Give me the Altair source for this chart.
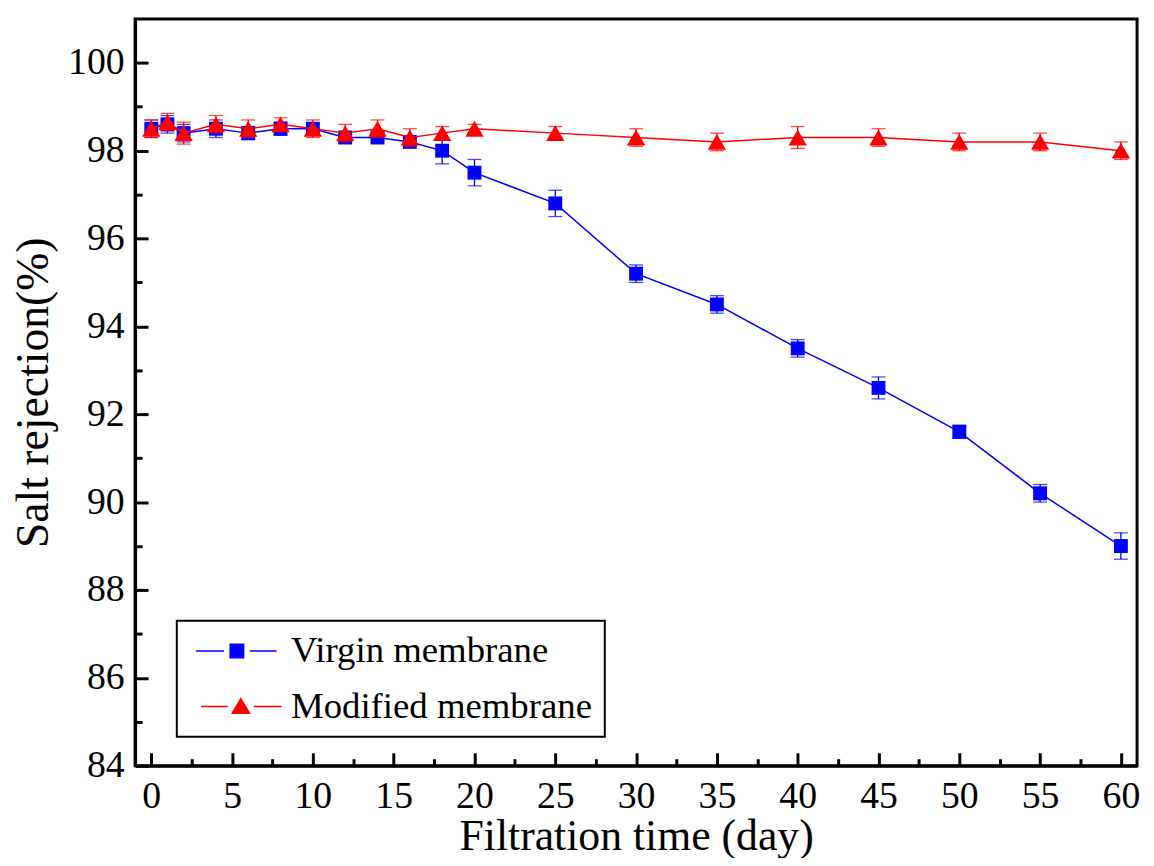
import altair as alt
import pandas as pd

# ---- data ----
days = [0, 1, 2, 4, 6, 8, 10, 12, 14, 16, 18, 20, 25, 30, 35, 40, 45, 50, 55, 60]
virgin = [98.5, 98.6, 98.4, 98.5, 98.4, 98.5, 98.5, 98.3, 98.3, 98.2, 98.0, 97.5,
          96.8, 95.2, 94.5, 93.5, 92.6, 91.6, 90.2, 89.0]
virgin_err = [0.2, 0.2, 0.2, 0.2, 0.15, 0.15, 0.1, 0.1, 0.1, 0.1, 0.3, 0.3,
              0.3, 0.2, 0.2, 0.2, 0.25, 0.15, 0.2, 0.3]
modified = [98.5, 98.65, 98.4, 98.6, 98.5, 98.6, 98.5, 98.4, 98.5, 98.3, 98.4, 98.5,
            98.4, 98.3, 98.2, 98.3, 98.3, 98.2, 98.2, 98.0]
modified_err = [0.2, 0.2, 0.25, 0.2, 0.2, 0.15, 0.2, 0.2, 0.2, 0.2, 0.15, 0.1,
                0.15, 0.2, 0.2, 0.25, 0.2, 0.2, 0.2, 0.2]
series_names = ["Virgin membrane", "Modified membrane"]
colors = ["#0000FF", "#FF0000"]
x_ticks = [i * 2.5 for i in range(25)]
y_ticks = list(range(84, 101))

rows = []
for name, vals, errs in [(series_names[0], virgin, virgin_err),
                         (series_names[1], modified, modified_err)]:
    for d, v, e in zip(days, vals, errs):
        rows.append({"day": d, "value": v, "lo": v - e, "hi": v + e, "series": name})
df = pd.DataFrame(rows)

FONT = "Liberation Serif"

xscale = alt.Scale(domain=[-1, 61], nice=False, zero=False)
yscale = alt.Scale(domain=[84, 101], nice=False, zero=False)
cscale = alt.Scale(domain=series_names, range=colors)

x_axis = alt.Axis(
    values=x_ticks,
    labelExpr="datum.value % 5 === 0 ? format(datum.value, 'd') : ''",
    tickSize={"expr": "datum.value % 5 === 0 ? -13 : -7"},
    labelPadding=25,
    title="Filtration time (day)",
    titleBaseline="alphabetic",
    titleY=84,
    titleFontSize=44,
)
y_axis = alt.Axis(
    values=y_ticks,
    labelExpr="datum.value % 2 === 0 ? format(datum.value, 'd') : ''",
    tickSize={"expr": "datum.value % 2 === 0 ? -13 : -7"},
    labelPadding=24,
    title="Salt rejection(%)",
    titlePadding=10,
)

X = alt.X("day:Q", scale=xscale, axis=x_axis)
Y = alt.Y("value:Q", scale=yscale, axis=y_axis)

base = alt.Chart(df)

# legend symbol paths (line - marker - line)
path_virgin = ("M-1.1,-0.08H1.7V0.08H-1.1Z M2.25,-0.75H3.75V0.75H2.25Z "
               "M4.3,-0.08H7.0V0.08H4.3Z")
path_modified = ("M-0.6,-0.08H2.1V0.08H-0.6Z M2.4,0.75L3.4,-0.95L4.4,0.75Z "
                 "M4.7,-0.08H7.5V0.08H4.7Z")

legend_kw = dict(
    title=None, orient="none", legendX=42, legendY=606,
    symbolSize=400, symbolOpacity=1, symbolStrokeWidth=0,
    labelFont=FONT, labelFontSize=37, labelColor="black", labelOffset=66,
    padding=12, strokeColor="black", fillColor="white", rowPadding=18,
    labelLimit=0,
)

layers = []
for name, col, shape, size in [(series_names[0], colors[0], "square", 196),
                               (series_names[1], colors[1], "triangle-up", 340)]:
    sub = base.transform_filter(alt.datum.series == name)
    line = sub.mark_line(strokeWidth=1.5, color=col).encode(x=X, y=Y)
    rule = sub.mark_rule(strokeWidth=1.3, color=col).encode(
        x=alt.X("day:Q", scale=xscale), y=alt.Y("lo:Q", scale=yscale), y2="hi:Q")
    cap_lo = sub.mark_tick(orient="horizontal", size=14, thickness=1.3, color=col).encode(
        x=alt.X("day:Q", scale=xscale), y=alt.Y("lo:Q", scale=yscale))
    cap_hi = sub.mark_tick(orient="horizontal", size=14, thickness=1.3, color=col).encode(
        x=alt.X("day:Q", scale=xscale), y=alt.Y("hi:Q", scale=yscale))
    pts = sub.mark_point(shape=shape, filled=True, size=size, opacity=1, color=col).encode(
        x=X, y=Y)
    layers += [line, rule, cap_lo, cap_hi, pts]

legend_layer = base.mark_point(filled=True, opacity=0, size=10).encode(
    x=X, y=Y,
    color=alt.Color("series:N", scale=cscale, legend=alt.Legend(**legend_kw)),
    shape=alt.Shape("series:N",
                    scale=alt.Scale(domain=series_names, range=[path_virgin, path_modified]),
                    legend=alt.Legend(**legend_kw)),
)
layers.append(legend_layer)

chart = alt.layer(*layers).properties(
    width=1009, height=752,
    autosize=alt.AutoSizeParams(type="none"),
    padding={"left": 128, "top": 8, "right": 9, "bottom": 90},
    background="white",
).configure_view(
    stroke="black", strokeWidth=3
).configure_axis(
    grid=False,
    domainColor="black", domainWidth=3,
    tickColor="black", tickWidth=3,
    labelFont=FONT, labelFontSize=38, labelColor="black",
    titleFont=FONT, titleFontSize=46, titleFontWeight="normal", titleColor="black",
).configure_legend(
    strokeWidth=2
)

chart.save("out.html", embed_options={"renderer": "svg", "actions": False})
